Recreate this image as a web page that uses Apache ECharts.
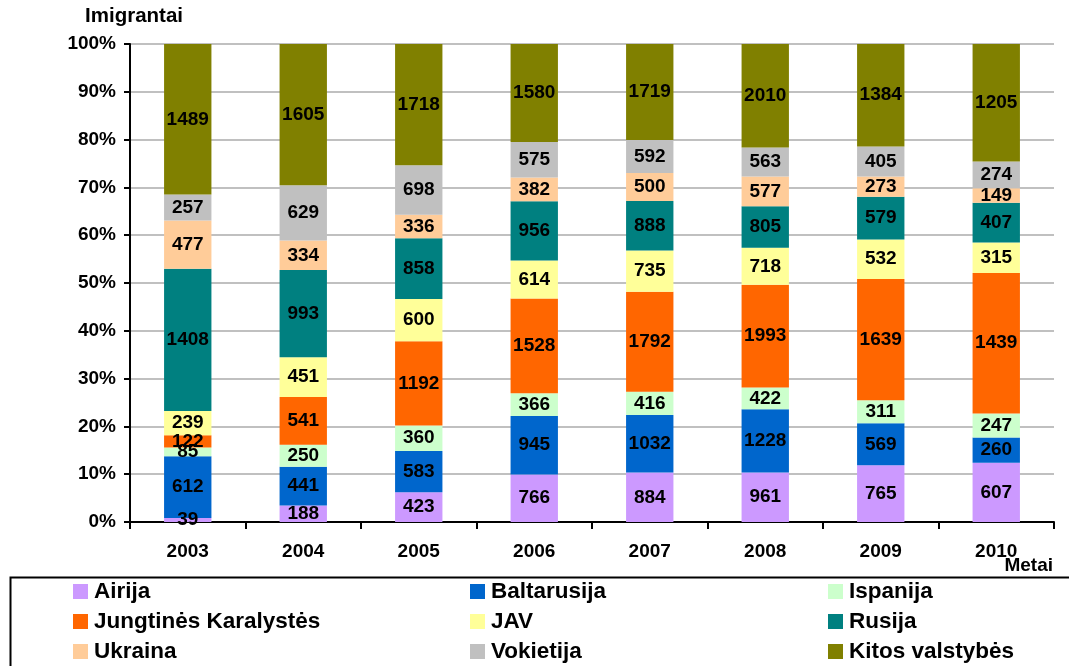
<!DOCTYPE html>
<html lang="lt">
  <head>
    <meta charset="UTF-8" />
    <title>Imigrantai</title>
    <style>
      body {
        margin: 0;
        width: 1069px;
        height: 666px;
        overflow: hidden;
        background: #fff;
      }
      main {
        width: 1069px;
        height: 666px;
      }
    </style>
  </head>
  <body>
    <main></main>
  </body>
</html>
<script src="https://cdn.jsdelivr.net/npm/echarts@6/dist/echarts.min.js"></script>
<script>
  // metai
  const years = ["2003", "2004", "2005", "2006", "2007", "2008", "2009", "2010"];

  // imigrantų skaičius pagal šalį (iš apačios į viršų)
  const airija = [39, 188, 423, 766, 884, 961, 765, 607];
  const baltarusija = [612, 441, 583, 945, 1032, 1228, 569, 260];
  const ispanija = [85, 250, 360, 366, 416, 422, 311, 247];
  const jungtinesKaralystes = [122, 541, 1192, 1528, 1792, 1993, 1639, 1439];
  const jav = [239, 451, 600, 614, 735, 718, 532, 315];
  const rusija = [1408, 993, 858, 956, 888, 805, 579, 407];
  const ukraina = [477, 334, 336, 382, 500, 577, 273, 149];
  const vokietija = [257, 629, 698, 575, 592, 563, 405, 274];
  const kitos = [1489, 1605, 1718, 1580, 1719, 2010, 1384, 1205];

  const yTicks = [0, 10, 20, 30, 40, 50, 60, 70, 80, 90, 100];

  const groups = [
    { name: "Airija", data: airija, color: "#CC99FF" },
    { name: "Baltarusija", data: baltarusija, color: "#0066CC" },
    { name: "Ispanija", data: ispanija, color: "#CCFFCC" },
    { name: "Jungtinės Karalystės", data: jungtinesKaralystes, color: "#FF6600" },
    { name: "JAV", data: jav, color: "#FFFF99" },
    { name: "Rusija", data: rusija, color: "#008080" },
    { name: "Ukraina", data: ukraina, color: "#FFCC99" },
    { name: "Vokietija", data: vokietija, color: "#C0C0C0" },
    { name: "Kitos valstybės", data: kitos, color: "#808000" },
  ];

  // metų sumos 100% stulpeliams
  const totals = years.map((y, i) => groups.reduce((s, g) => s + g.data[i], 0));

  const font = "Liberation Sans, Arial, sans-serif";

  const series = groups.map((g) => ({
    name: g.name,
    type: "bar",
    stack: "viso",
    barWidth: "41%",
    itemStyle: { color: g.color },
    label: {
      show: true,
      position: "inside",
      color: "#000",
      fontFamily: font,
      fontWeight: "bold",
      fontSize: 19,
      formatter: (p) => g.data[p.dataIndex],
    },
    data: g.data.map((v, i) => (v / totals[i]) * 100),
  }));

  // legenda: 3 stulpeliai x 3 eilutės
  const legendCols = [73, 470, 828];
  const legendRows = [580, 610, 640];
  const legends = groups.map((g, i) => ({
    data: [g.name],
    left: legendCols[i % 3],
    top: legendRows[Math.floor(i / 3)],
    itemWidth: 15,
    itemHeight: 15,
    itemGap: 0,
    padding: 0,
    icon: "rect",
    selectedMode: false,
    textStyle: {
      fontFamily: font,
      fontWeight: "bold",
      fontSize: 22.5,
      color: "#000",
      padding: [0, 0, 0, 1],
    },
  }));

  const chart = echarts.init(document.querySelector("main"));
  chart.setOption({
    animation: false,
    grid: { left: 130, right: 15, top: 44, bottom: 144 },
    legend: legends,
    xAxis: {
      type: "category",
      data: years,
      axisLine: { lineStyle: { color: "#000", width: 2 } },
      axisTick: { show: true, length: 7, lineStyle: { color: "#000", width: 2 } },
      axisLabel: {
        margin: 20,
        color: "#000",
        fontFamily: font,
        fontWeight: "bold",
        fontSize: 19,
      },
    },
    yAxis: {
      type: "value",
      min: yTicks[0],
      max: yTicks[yTicks.length - 1],
      interval: 10,
      name: "Imigrantai",
      nameGap: 17,
      nameTextStyle: {
        color: "#000",
        fontFamily: font,
        fontWeight: "bold",
        fontSize: 20.5,
        padding: [0, 0, 0, 8],
      },
      axisLine: { show: true, lineStyle: { color: "#000", width: 2 } },
      axisTick: { show: true, length: 6, lineStyle: { color: "#000", width: 2 } },
      axisLabel: {
        margin: 14,
        color: "#000",
        fontFamily: font,
        fontWeight: "bold",
        fontSize: 19,
        formatter: "{value}%",
      },
      splitLine: { lineStyle: { color: "#C0C0C0", width: 2 } },
    },
    graphic: [
      {
        type: "text",
        right: 16,
        top: 556,
        style: {
          text: "Metai",
          fill: "#000",
          font: "bold 19px " + font,
        },
      },
      {
        type: "rect",
        left: 8,
        top: 575,
        shape: { width: 1080, height: 110 },
        style: { fill: "none", stroke: "#000", lineWidth: 2 },
        z: -1,
      },
    ],
    series: series,
  });
</script>
